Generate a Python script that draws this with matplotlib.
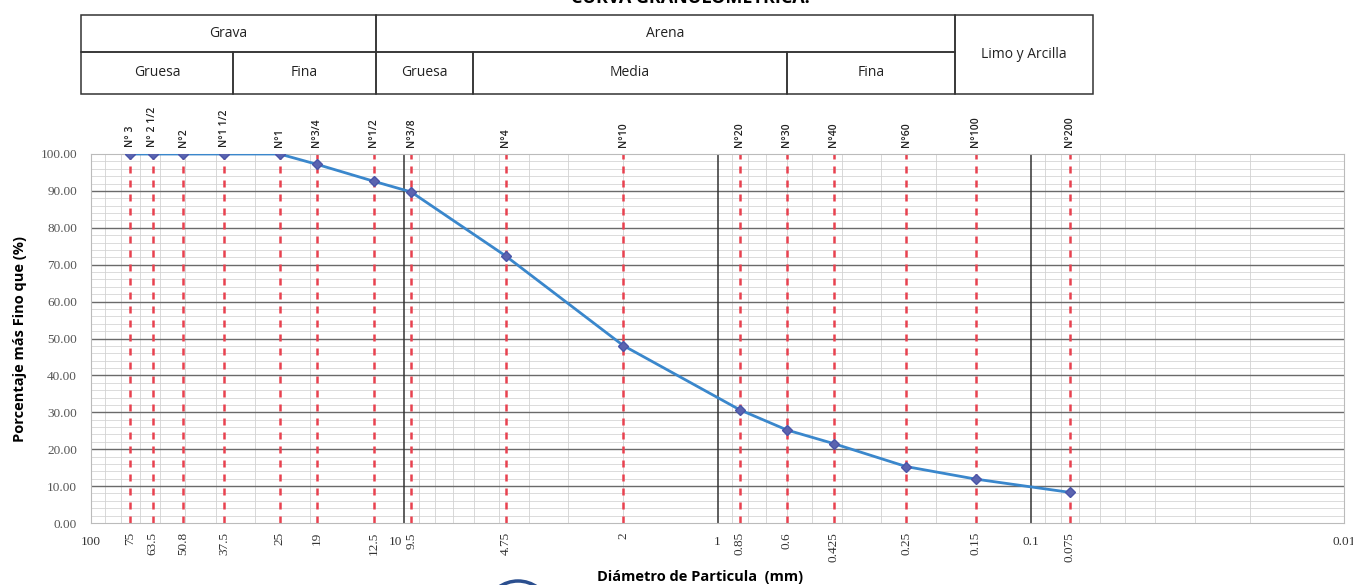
import numpy as np
import matplotlib.pyplot as plt
from matplotlib.patches import Rectangle, Arc

# sieve data
sieve_names = ["N° 3", "N° 2 1/2", "N°2", "N°1 1/2", "N°1", "N°3/4", "N°1/2", "N°3/8",
               "N°4", "N°10", "N°20", "N°30", "N°40", "N°60", "N°100", "N°200"]
sieve_mm = [75, 63.5, 50.8, 37.5, 25, 19, 12.5, 9.5, 4.75, 2, 0.85, 0.6, 0.425, 0.25, 0.15, 0.075]
sieve_lbl = ["75", "63.5", "50.8", "37.5", "25", "19", "12.5", "9.5", "4.75", "2",
             "0.85", "0.6", "0.425", "0.25", "0.15", "0.075"]
passing = [100, 100, 100, 100, 100, 97.2, 92.6, 89.7, 72.4, 48.1, 30.7, 25.2, 21.5, 15.3, 11.9, 8.3]
decades = [100, 10, 1, 0.1, 0.01]
decade_lbl = ["100", "10", "1", "0.1", "0.01"]

W, H = 1353, 585
fig = plt.figure(figsize=(W / 100, H / 100), dpi=100)
ax = fig.add_axes([91 / W, 1 - 523 / H, (1344 - 91) / W, (523 - 154) / H])

ax.set_xscale("log")
ax.set_xlim(100, 0.01)
ax.set_ylim(0, 100)

# grid
ax.set_yticks(np.arange(0, 101, 10))
ax.set_yticklabels([f"{v:.2f}" for v in np.arange(0, 101, 10)], fontsize=9.5,
                   family="Liberation Serif", color="#555555")
ax.set_xticks([])
ax.set_xticks([], minor=True)
ax.tick_params(axis="y", which="both", length=0, pad=10)
for y in np.arange(2, 100, 2):
    ax.axhline(y, color="#d6d6d6", lw=0.6, zorder=0)
for y in np.arange(10, 100, 10):
    ax.axhline(y, color="#6a6a6a", lw=1.0, zorder=1)
for d in [10, 1, 0.1, 0.01]:
    for m in range(2, 10):
        ax.axvline(d * m, color="#d2d2d2", lw=0.6, zorder=0)
for d in [10, 1, 0.1]:
    ax.axvline(d, color="#333333", lw=1.1, zorder=1)
for s in ax.spines.values():
    s.set_color("#bbbbbb")
    s.set_linewidth(0.8)

# red dashed sieve lines
for x in sieve_mm:
    ax.axvline(x, color="#e8414f", lw=1.8, dashes=(2.8, 2.8), zorder=2)

# curve
ax.plot(sieve_mm, passing, color="#3a87cc", lw=2, zorder=3)
ax.plot(sieve_mm, passing, ls="none", marker="D", ms=5.5, color="#5b64b0",
        markeredgecolor="#4a55a8", zorder=4)

# bottom tick labels
tf = dict(family="Liberation Serif", fontsize=9.5, color="#333333")
for x, t in zip(sieve_mm, sieve_lbl):
    ax.text(x, -2.5, t, rotation=90, ha="center", va="top", **tf)
for x, t in zip(decades, decade_lbl):
    dx = 1.07 if t == "10" else 1.0
    ax.text(x * dx, -3.5, t, ha="center", va="top", **tf)

# top sieve names
for x, t in zip(sieve_mm, sieve_names):
    ax.text(x, 102, t, rotation=90, ha="center", va="bottom", fontsize=7.5,
            family="Open Sans", fontweight="semibold", color="#222222")

ax.set_ylabel("Porcentaje más Fino que (%)", fontsize=10.5, fontweight="bold",
              family="Open Sans", labelpad=10)
fig.text(700 / W, 1 - 577 / H, "Diámetro de Particula  (mm)", ha="center", va="center",
         fontsize=10.5, fontweight="bold", family="Open Sans")

# classification table
def fx(px):
    return px / W

def fy(py):
    return 1 - py / H

def box(x0, x1, y0, y1, label):
    fig.add_artist(Rectangle((fx(x0), fy(y1)), fx(x1) - fx(x0), fy(y0) - fy(y1),
                             fill=False, ec="#333333", lw=1.1, transform=fig.transFigure))
    fig.text(fx((x0 + x1) / 2), fy((y0 + y1) / 2), label, ha="center", va="center",
             fontsize=10, family="Open Sans", color="#222222")

box(81, 376, 15, 52, "Grava")
box(376, 955, 15, 52, "Arena")
box(955, 1093, 15, 94, "Limo y Arcilla")
box(81, 233, 52, 94, "Gruesa")
box(233, 376, 52, 94, "Fina")
box(376, 473, 52, 94, "Gruesa")
box(473, 787, 52, 94, "Media")
box(787, 955, 52, 94, "Fina")

# title (cut off by the scan)
fig.text(fx(690), fy(-2), "CURVA GRANULOMETRICA:", ha="center", va="center",
         fontsize=13, fontweight="bold", family="Open Sans")

# logo arc at bottom of scan
fig.add_artist(Arc((fx(518), fy(614)), fx(66), 66 / H, theta1=35, theta2=145,
                   color="#2b4f8f", lw=2.5, transform=fig.transFigure))

fig.savefig("out.png", dpi=100, facecolor="white")
